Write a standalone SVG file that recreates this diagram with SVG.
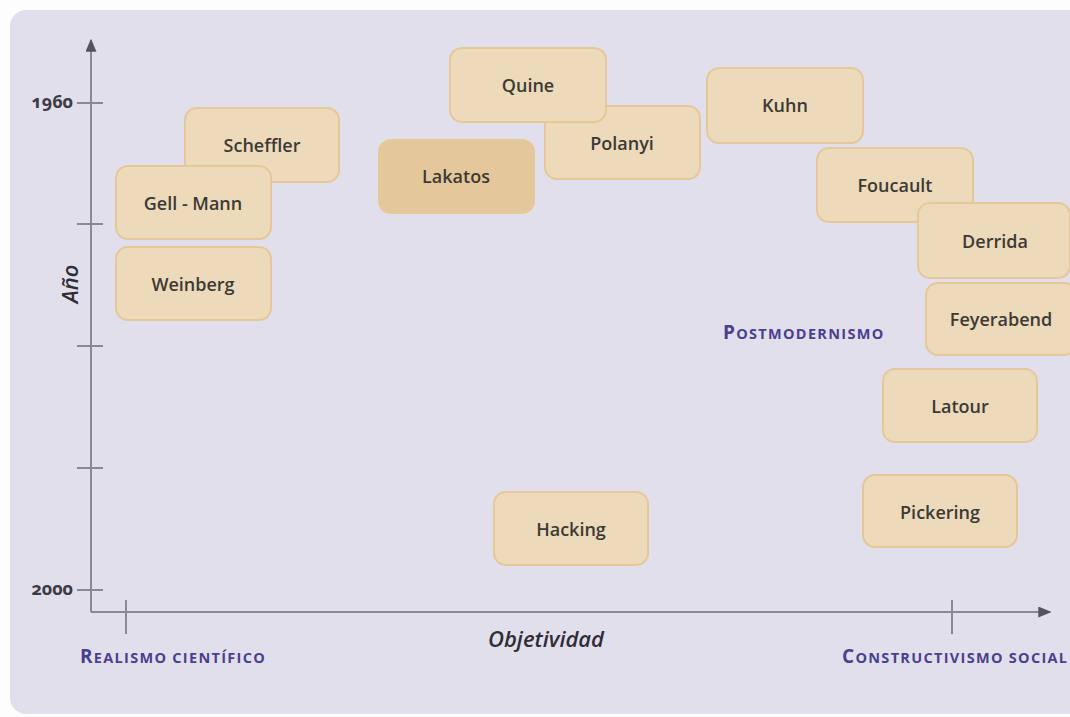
<svg xmlns="http://www.w3.org/2000/svg" width="1070" height="717" viewBox="0 0 1070 717">
<defs>
<style>
.node rect{fill:#ecdabb;stroke:#e6c898;stroke-width:2}
.node.dark rect{fill:#e4c89c}
.node text{font-family:"Open Sans","Liberation Sans",sans-serif;font-size:18px;font-weight:600;fill:#3d3934;text-anchor:middle;dominant-baseline:central}
.axis{stroke:#8b8698;stroke-width:2;fill:none}
.tick{font-family:"Open Sans","Liberation Sans",sans-serif;font-size:18px;font-weight:700;fill:#3d3b45;text-anchor:end;font-variant-numeric:oldstyle-nums}
.ax{font-family:"Open Sans","Liberation Sans",sans-serif;font-size:22px;font-weight:600;font-style:italic;fill:#2f2d35;text-anchor:middle}
.cat{font-family:"Open Sans","Liberation Sans",sans-serif;font-size:14.5px;font-weight:700;fill:#4b3f8e;letter-spacing:1.3px}
.cap{font-size:19px}
</style>
<marker id="arr" viewBox="0 0 10 10" refX="9" refY="5" markerWidth="13" markerHeight="11" markerUnits="userSpaceOnUse" orient="auto" preserveAspectRatio="none">
<path d="M0,0 L10,5 L0,10 z" fill="#55525e"/>
</marker>
</defs>
<rect x="0" y="0" width="1070" height="717" fill="#fdfdfd"/>
<rect x="10" y="10" width="1080" height="704" rx="16" fill="#e2dfed"/>
<g id="connectors">
<line class="axis" x1="91" y1="612" x2="91" y2="40" marker-end="url(#arr)"/>
<line class="axis" x1="91" y1="612" x2="1050" y2="612" marker-end="url(#arr)"/>
<line class="axis" x1="77" y1="103" x2="103" y2="103"/>
<line class="axis" x1="77" y1="224" x2="103" y2="224"/>
<line class="axis" x1="77" y1="346" x2="103" y2="346"/>
<line class="axis" x1="77" y1="468" x2="103" y2="468"/>
<line class="axis" x1="77" y1="590" x2="103" y2="590"/>
<line class="axis" x1="126" y1="600" x2="126" y2="634"/>
<line class="axis" x1="952" y1="600" x2="952" y2="634"/>
</g>
<g id="labels">
<text class="tick" x="73" y="108">1960</text>
<text class="tick" x="73" y="595">2000</text>
<text class="ax" transform="translate(78,284) rotate(-90)">Año</text>
<text class="ax" x="546" y="647">Objetividad</text>
<text class="cat" x="80" y="663"><tspan class="cap">R</tspan>EALISMO CIENTÍFICO</text>
<text class="cat" x="842" y="663"><tspan class="cap">C</tspan>ONSTRUCTIVISMO SOCIAL</text>
<text class="cat" x="723" y="339"><tspan class="cap">P</tspan>OSTMODERNISMO</text>
</g>
<g id="n-scheffler" class="node"><rect x="185" y="108" width="154" height="74" rx="12"/><text x="262" y="145">Scheffler</text></g>
<g id="n-gellmann" class="node"><rect x="116" y="166" width="155" height="73" rx="12"/><text x="193" y="203">Gell - Mann</text></g>
<g id="n-weinberg" class="node"><rect x="116" y="247" width="155" height="73" rx="12"/><text x="193" y="284">Weinberg</text></g>
<g id="n-polanyi" class="node"><rect x="545" y="106" width="155" height="73" rx="12"/><text x="622" y="143">Polanyi</text></g>
<g id="n-quine" class="node"><rect x="450" y="48" width="156" height="74" rx="12"/><text x="528" y="85">Quine</text></g>
<g id="n-lakatos" class="node dark"><rect x="379" y="140" width="155" height="73" rx="12"/><text x="456" y="176">Lakatos</text></g>
<g id="n-kuhn" class="node"><rect x="707" y="68" width="156" height="75" rx="12"/><text x="785" y="105">Kuhn</text></g>
<g id="n-foucault" class="node"><rect x="817" y="148" width="156" height="74" rx="12"/><text x="895" y="185">Foucault</text></g>
<g id="n-derrida" class="node"><rect x="918" y="203" width="152" height="75" rx="12"/><text x="995" y="241">Derrida</text></g>
<g id="n-feyerabend" class="node"><rect x="926" y="283" width="150" height="72" rx="12"/><text x="1001" y="319">Feyerabend</text></g>
<g id="n-latour" class="node"><rect x="883" y="369" width="154" height="73" rx="12"/><text x="960" y="406">Latour</text></g>
<g id="n-pickering" class="node"><rect x="863" y="475" width="154" height="72" rx="12"/><text x="940" y="512">Pickering</text></g>
<g id="n-hacking" class="node"><rect x="494" y="492" width="154" height="73" rx="12"/><text x="571" y="529">Hacking</text></g>
</svg>
